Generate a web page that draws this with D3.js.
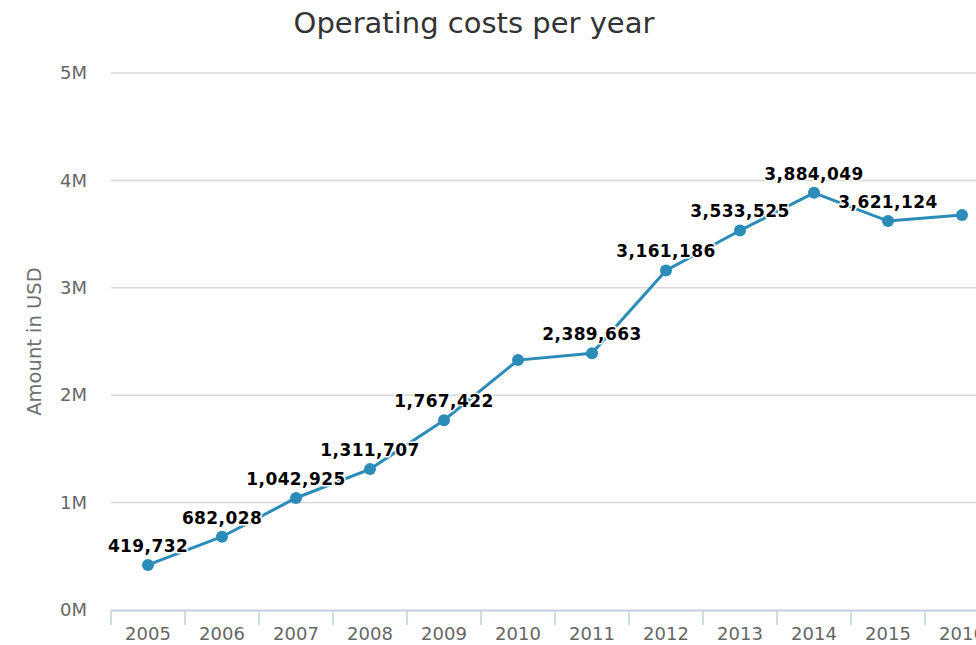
<!DOCTYPE html>
<html>
<head>
<meta charset="utf-8">
<script src="https://cdn.jsdelivr.net/npm/d3@7"></script>
<style>
  body { margin: 0; background: #fff; overflow: hidden; }
  svg { display: block; font-family: "DejaVu Sans", sans-serif; }
</style>
</head>
<body>
<script>
const years = ['2005', '2006', '2007', '2008', '2009', '2010', '2011', '2012', '2013', '2014', '2015', '2016'];
const costs = [419732, 682028, 1042925, 1311707, 1767422, 2327000, 2389663, 3161186, 3533525, 3884049, 3621124, 3677000];
const yTicks = [0, 1e6, 2e6, 3e6, 4e6, 5e6];

const width = 976;
const height = 645;
const margin = { top: 73, left: 111, bottom: 35 };
const step = 74;

const data = years.map((y, i) => ({ year: y, value: costs[i] }));

const svg = d3.select('body')
  .append('svg')
  .attr('width', width)
  .attr('height', height);

const x = d3.scaleBand()
  .domain(years)
  .range([margin.left, margin.left + step * years.length]);

const y = d3.scaleLinear()
  .domain([0, 5e6])
  .range([height - margin.bottom, margin.top]);

// gridlines
svg.append('g')
  .selectAll('line')
  .data(yTicks.slice(1))
  .join('line')
  .attr('x1', margin.left)
  .attr('x2', width)
  .attr('y1', d => y(d))
  .attr('y2', d => y(d))
  .attr('stroke', '#d8d8d8')
  .attr('stroke-width', 1.5);

// y axis labels
const yAxis = svg.append('g')
  .attr('transform', `translate(${margin.left},0)`)
  .call(d3.axisLeft(y).tickValues(yTicks).tickFormat(d => d / 1e6 + 'M').tickSize(0).tickPadding(24));
yAxis.select('.domain').remove();
yAxis.selectAll('text')
  .attr('fill', '#666')
  .style('font-size', '18px')
  .style('font-family', '"DejaVu Sans", sans-serif');

// x axis (last label is cut by the window edge, as in the original)
const xAxis = svg.append('g')
  .attr('transform', `translate(0,${y(0)})`)
  .call(d3.axisBottom(x).tickSize(0).tickPadding(17));
xAxis.select('.domain')
  .attr('stroke', '#c0d0e0')
  .attr('stroke-width', 2);
xAxis.selectAll('text')
  .attr('fill', '#666')
  .style('font-size', '18px')
  .style('font-family', '"DejaVu Sans", sans-serif');
xAxis.append('g')
  .selectAll('line')
  .data(years)
  .join('line')
  .attr('x1', d => x(d))
  .attr('x2', d => x(d))
  .attr('y1', 0)
  .attr('y2', 15)
  .attr('stroke', '#c0d0e0')
  .attr('stroke-width', 1.5);

// axis title
svg.append('text')
  .attr('transform', `translate(41,${(y(0) + y(5e6)) / 2}) rotate(-90)`)
  .attr('text-anchor', 'middle')
  .attr('fill', '#707070')
  .style('font-size', '19.5px')
  .text('Amount in USD');

// title
svg.append('text')
  .attr('x', 474)
  .attr('y', 33)
  .attr('text-anchor', 'middle')
  .attr('fill', '#333')
  .style('font-size', '29px')
  .text('Operating costs per year');

const cx = d => x(d.year) + x.bandwidth() / 2;

// line
svg.append('path')
  .datum(data)
  .attr('fill', 'none')
  .attr('stroke', '#2b8cb8')
  .attr('stroke-width', 3)
  .attr('d', d3.line().x(cx).y(d => y(d.value)));

// markers
svg.append('g')
  .selectAll('circle')
  .data(data)
  .join('circle')
  .attr('cx', cx)
  .attr('cy', d => y(d.value))
  .attr('r', 6)
  .attr('fill', '#2b8cb8');

// data labels, hiding ones that overflow or overlap (higher value wins)
const fmt = d3.format(',');
const labels = svg.append('g')
  .selectAll('text')
  .data(data)
  .join('text')
  .attr('x', cx)
  .attr('y', d => y(d.value) - 13)
  .attr('text-anchor', 'middle')
  .attr('fill', '#000')
  .attr('stroke', '#fff')
  .attr('stroke-width', 3)
  .attr('paint-order', 'stroke')
  .attr('stroke-linejoin', 'round')
  .style('font-size', '17px')
  .style('font-weight', 'bold')
  .style('letter-spacing', '0.4px')
  .text(d => fmt(d.value));

const boxes = [];
labels.each(function (d) {
  const b = this.getBBox();
  d.box = b;
  if (b.x < 0 || b.x + b.width > width) d3.select(this).remove();
  else boxes.push({ d, el: this });
});
boxes.sort((a, b) => b.d.value - a.d.value);
const kept = [];
boxes.forEach(({ d, el }) => {
  const b = d.box;
  const hit = kept.some(k => b.x < k.x + k.width && k.x < b.x + b.width && b.y < k.y + k.height && k.y < b.y + b.height);
  if (hit) d3.select(el).remove();
  else kept.push(b);
});
</script>
</body>
</html>
